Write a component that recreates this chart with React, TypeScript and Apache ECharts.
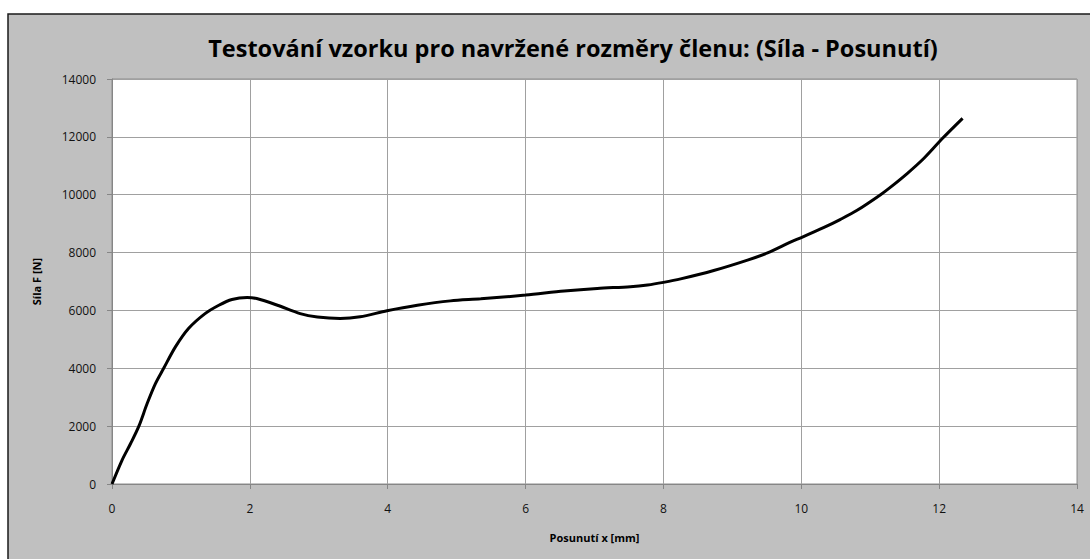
import React, { useEffect, useRef } from "react";
import * as echarts from "echarts";

const titleText = "Testování vzorku pro navržené rozměry členu: (Síla - Posunutí)";
const xAxisName = "Posunutí x [mm]";
const yAxisName = "Síla F [N]";

const displacement = [
  0, 0.145, 0.27, 0.39, 0.51, 0.63, 0.75, 0.92, 1.11, 1.35, 1.55, 1.74, 1.96, 2.1,
  2.4, 2.73, 2.98, 3.31, 3.6, 3.99, 4.43, 4.91, 5.35, 6.0, 6.56, 7.04, 7.52, 7.77,
  8.0, 8.25, 8.73, 9.22, 9.51, 9.85, 10.0, 10.33, 10.57, 10.81, 11.15, 11.3, 11.54,
  11.78, 12.05, 12.34,
];
const force = [
  0, 820, 1400, 2000, 2780, 3470, 4000, 4740, 5375, 5890, 6180, 6380, 6450, 6410,
  6180, 5890, 5770, 5720, 5780, 5990, 6180, 6330, 6400, 6530, 6670, 6760, 6820, 6880,
  6970, 7090, 7380, 7740, 7990, 8370, 8520, 8870, 9150, 9460, 10000, 10270, 10740,
  11260, 11950, 12640,
];

export default function App() {
  const ref = useRef<HTMLDivElement>(null);
  useEffect(() => {
    if (!ref.current) return;
    const chart = echarts.init(ref.current, undefined, { renderer: "svg" });
    const data = displacement.map((x, i) => [x, force[i]]);
    const font = "'Open Sans', 'Noto Sans', sans-serif";
    chart.setOption({
      animation: false,
      backgroundColor: "#ffffff",
      graphic: [
        {
          type: "rect",
          z: -10,
          silent: true,
          shape: { x: 8, y: 14, width: 1100, height: 560 },
          style: { fill: "#c0c0c0", stroke: "#1a1a1a", lineWidth: 1.5 },
        },
      ],
      title: {
        text: titleText,
        left: 568,
        top: 31,
        textAlign: "center",
        textStyle: { fontFamily: font, fontWeight: "bold", fontSize: 23.5, color: "#000" },
      },
      grid: {
        left: 112,
        right: 13,
        top: 79,
        bottom: 75,
        show: true,
        backgroundColor: "#ffffff",
        borderColor: "#8c8c8c",
        borderWidth: 1,
      },
      xAxis: {
        type: "value",
        min: 0,
        max: 14,
        interval: 2,
        name: xAxisName,
        nameLocation: "middle",
        nameGap: 48,
        nameTextStyle: { fontFamily: font, fontWeight: "bold", fontSize: 11, color: "#000" },
        axisLine: { show: true, lineStyle: { color: "#868686", width: 1 } },
        axisTick: { show: true, length: 5, lineStyle: { color: "#868686" } },
        axisLabel: { fontFamily: font, fontSize: 12, color: "#111", margin: 18 },
        splitLine: { show: true, lineStyle: { color: "#a0a0a0", width: 1 } },
      },
      yAxis: {
        type: "value",
        min: 0,
        max: 14000,
        interval: 2000,
        name: yAxisName,
        nameLocation: "middle",
        nameGap: 70,
        nameTextStyle: { fontFamily: font, fontWeight: "bold", fontSize: 11, color: "#000" },
        axisLine: { show: true, lineStyle: { color: "#868686", width: 1 } },
        axisTick: { show: true, length: 5, lineStyle: { color: "#868686" } },
        axisLabel: {
          fontFamily: font,
          fontSize: 12,
          color: "#111",
          margin: 16,
          formatter: (v: number) => String(v),
        },
        splitLine: { show: true, lineStyle: { color: "#a0a0a0", width: 1 } },
      },
      series: [
        {
          type: "line",
          data,
          smooth: 0.3,
          showSymbol: false,
          symbol: "none",
          lineStyle: { color: "#000", width: 3 },
        },
      ],
    });
    return () => chart.dispose();
  }, []);
  return (
    <div
      ref={ref}
      style={{ position: "fixed", left: 0, top: 0, width: 1090, height: 559 }}
    />
  );
}
